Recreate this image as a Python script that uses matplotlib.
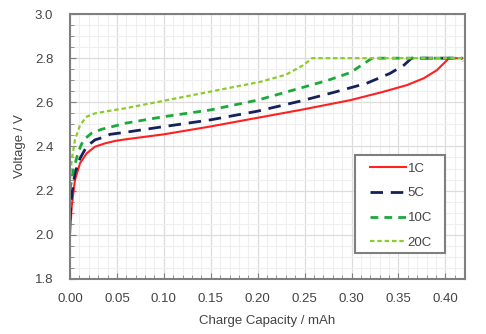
import numpy as np
import matplotlib.pyplot as plt
from matplotlib.patches import Rectangle
from matplotlib.ticker import MultipleLocator

plt.rcParams['font.family'] = ['Liberation Sans', 'DejaVu Sans']

# charge capacity (mAh) and voltage (V)
cap_1c = [0.0, 0.0018, 0.0053, 0.0107, 0.0178, 0.0267, 0.0373, 0.048, 0.0587,
          0.10, 0.149, 0.20, 0.245, 0.299, 0.334, 0.359, 0.377, 0.391, 0.402,
          0.404, 0.418]
v_1c = [2.0, 2.127, 2.248, 2.324, 2.369, 2.399, 2.414, 2.425, 2.432,
        2.455, 2.49, 2.53, 2.565, 2.61, 2.648, 2.678, 2.709, 2.746, 2.792,
        2.80, 2.80]

cap_5c = [0.0, 0.0018, 0.0053, 0.0107, 0.0178, 0.0267, 0.0373, 0.0427, 0.0587,
          0.10, 0.149, 0.20, 0.245, 0.281, 0.316, 0.341, 0.356, 0.364, 0.418]
v_5c = [2.067, 2.18, 2.28, 2.346, 2.40, 2.43, 2.444, 2.455, 2.464,
        2.49, 2.52, 2.56, 2.605, 2.645, 2.686, 2.731, 2.769, 2.80, 2.80]

cap_10c = [0.0, 0.0036, 0.0089, 0.0142, 0.023, 0.0338, 0.048, 0.0587,
           0.10, 0.149, 0.20, 0.25, 0.275, 0.299, 0.313, 0.322, 0.418]
v_10c = [2.203, 2.293, 2.376, 2.429, 2.46, 2.478, 2.493, 2.505,
         2.535, 2.565, 2.61, 2.67, 2.70, 2.735, 2.775, 2.80, 2.80]

cap_20c = [0.0, 0.0018, 0.0053, 0.0107, 0.0178, 0.0267, 0.0373, 0.0587,
           0.10, 0.149, 0.203, 0.23, 0.249, 0.258, 0.418, 0.419]
v_20c = [2.248, 2.339, 2.43, 2.497, 2.535, 2.55, 2.558, 2.573,
         2.607, 2.648, 2.693, 2.725, 2.769, 2.80, 2.80, 2.785]

fig = plt.figure(figsize=(4.86, 3.34), dpi=100)
ax = fig.add_axes([0.144, 0.165, 0.813, 0.793])

ax.plot(cap_1c, v_1c, color='#ff2020', lw=1.5, label='1C')
ax.plot(cap_5c, v_5c, color='#14215a', lw=2.0, dashes=(4.5, 2.8), label='5C')
ax.plot(cap_10c, v_10c, color='#1aaa3a', lw=2.0, dashes=(2.8, 2.2), label='10C')
ax.plot(cap_20c, v_20c, color='#8ccc2a', lw=1.6, dashes=(2.0, 1.3), label='20C')

ax.set_xlim(0, 0.421)
ax.set_ylim(1.8, 3.0)
ax.xaxis.set_minor_locator(MultipleLocator(0.01))
ax.yaxis.set_major_locator(MultipleLocator(0.2))
ax.yaxis.set_minor_locator(MultipleLocator(0.05))
ax.set_xticks(np.arange(0, 0.41, 0.05))
ax.set_xticklabels([f'{v:.2f}' for v in np.arange(0, 0.41, 0.05)])
ax.yaxis.set_major_formatter(plt.FormatStrFormatter('%.1f'))

ax.grid(which='major', color='#dcdcdc', lw=0.9)
ax.grid(which='minor', color='#efefef', lw=0.8)
ax.set_axisbelow(True)

for s in ax.spines.values():
    s.set_color('#7f7f7f')
    s.set_linewidth(1.5)
ax.tick_params(which='both', direction='in', color='#7f7f7f', top=False, right=False,
               labelsize=9.5, labelcolor='#444444')
ax.tick_params(axis='x', pad=10)
ax.tick_params(axis='y', pad=12)
ax.tick_params(which='major', length=4)
ax.tick_params(which='minor', length=3)

ax.set_xlabel('Charge Capacity / mAh', fontsize=9.5, color='#444444', labelpad=7)
ax.set_ylabel('Voltage / V', fontsize=9.5, color='#444444', labelpad=6)

# legend box drawn separately so its padding matches the original
ax.add_patch(Rectangle((0.722, 0.098), 0.227, 0.370, transform=ax.transAxes,
                       facecolor='white', edgecolor='#7f7f7f', lw=1.5, zorder=4))
leg = ax.legend(loc='upper left', bbox_to_anchor=(0.759, 0.440), fontsize=9.5,
                frameon=False, handlelength=2.7, labelspacing=0.95,
                borderpad=0, borderaxespad=0, handletextpad=0.15,
                labelcolor='#444444')
leg.set_zorder(5)

fig.savefig('out.png', dpi=100)
